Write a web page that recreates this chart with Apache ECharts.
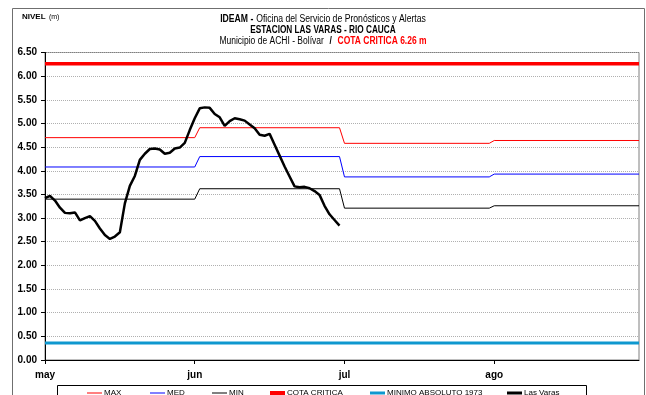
<!DOCTYPE html>
<html>
<head>
<meta charset="utf-8">
<script src="https://cdn.jsdelivr.net/npm/echarts@6/dist/echarts.min.js"></script>
<style>
  html, body { margin: 0; padding: 0; background: #fff; }
  #chart { width: 646px; height: 395px; }
</style>
</head>
<body>
<div id="chart"></div>
<script>
// Month labels on the time axis (one label every 30 days)
const monthLabels = ['may', 'jun', 'jul', 'ago'];
const monthTickDays = [0, 30, 60, 90];

// Historical reference levels per month (m)
const maxLevels = [4.70, 4.91, 4.58, 4.64];
const medLevels = [4.08, 4.30, 3.87, 3.93];
const minLevels = [3.40, 3.62, 3.21, 3.26];
// Day span of each monthly level segment
const segStartDay = [0, 31, 60, 90];
const segEndDay = [30, 59, 89, 119];

const cotaCritica = 6.26;
const minimoAbsoluto1973 = 0.36;
const lastDay = 119;

// Daily water level at Las Varas (m), from May 1
const lasVaras = [
  3.42, 3.47, 3.37, 3.22, 3.11, 3.10, 3.12, 2.95, 3.00, 3.04,
  2.94, 2.78, 2.64, 2.56, 2.61, 2.70, 3.31, 3.68, 3.89, 4.23,
  4.36, 4.46, 4.47, 4.45, 4.36, 4.38, 4.47, 4.49, 4.59, 4.86,
  5.11, 5.32, 5.34, 5.33, 5.20, 5.13, 4.95, 5.05, 5.11, 5.09,
  5.06, 4.98, 4.90, 4.76, 4.74, 4.78, 4.55, 4.32, 4.09, 3.88,
  3.67, 3.65, 3.66, 3.63, 3.57, 3.49, 3.26, 3.08, 2.96, 2.84
];

const FONT = "'Liberation Sans', Arial, sans-serif";

function stepData(levels) {
  const out = [];
  levels.forEach((v, m) => {
    out.push([segStartDay[m], v]);
    out.push([segEndDay[m], v]);
  });
  return out;
}
function flatData(v) {
  return [[0, v], [lastDay, v]];
}

const lineSeries = (name, data, color, width, z) => ({
  name, type: 'line', data, showSymbol: false, symbol: 'none',
  lineStyle: { color, width }, itemStyle: { color }, z,
  animation: false
});

const legendItems = [
  { name: 'MAX', left: 87, color: '#ff0000', h: 1 },
  { name: 'MED', left: 150, color: '#0000ff', h: 1 },
  { name: 'MIN', left: 212, color: '#000000', h: 1 },
  { name: 'COTA CRITICA', left: 270, color: '#ff0000', h: 4 },
  { name: 'MINIMO ABSOLUTO 1973', left: 370, color: '#0e98cf', h: 3 },
  { name: 'Las Varas', left: 507, color: '#000000', h: 3 }
];

// Header lines, condensed horizontally
const headerText = (y, sx, style) => ({
  type: 'text', z: 5, silent: true, x: 323, y, scaleX: sx,
  style: Object.assign({ textAlign: 'center', textVerticalAlign: 'middle' }, style)
});

const chart = echarts.init(document.getElementById('chart'), null, { renderer: 'canvas' });

chart.setOption({
  animation: false,
  backgroundColor: '#ffffff',
  textStyle: { fontFamily: FONT },
  grid: {
    left: 45, right: 7, top: 52.5, bottom: 35,
    show: true, borderColor: '#7f7f7f', borderWidth: 1, backgroundColor: '#ffffff'
  },
  xAxis: {
    type: 'value', min: 0, max: lastDay,
    axisLine: { show: true, lineStyle: { color: '#000', width: 1 } },
    axisTick: { show: true, inside: false, length: 4, customValues: monthTickDays, lineStyle: { color: '#000' } },
    axisLabel: {
      customValues: monthTickDays,
      formatter: v => monthLabels[monthTickDays.indexOf(v)] || '',
      fontFamily: FONT, fontWeight: 'bold', fontSize: 10, color: '#000', margin: 10
    },
    splitLine: { show: false }
  },
  yAxis: {
    type: 'value', min: 0, max: 6.5, interval: 0.5,
    axisLine: { show: true, lineStyle: { color: '#000', width: 1 } },
    axisTick: { show: true, inside: false, length: 4, lineStyle: { color: '#000' } },
    axisLabel: {
      formatter: v => v.toFixed(2),
      fontFamily: FONT, fontWeight: 'bold', fontSize: 10, color: '#000', margin: 8
    },
    splitLine: { show: true, lineStyle: { color: '#b0b0b0', type: 'dotted', width: 1 } }
  },
  legend: legendItems.map(it => ({
    data: [it.name], left: it.left, top: 389, padding: 0,
    icon: 'rect', itemWidth: 15, itemHeight: it.h, itemGap: 0,
    selectedMode: false,
    textStyle: { fontFamily: FONT, fontSize: 8, color: '#000', padding: [0, 0, 0, -3] }
  })),
  graphic: [
    { type: 'rect', z: -10, silent: true, shape: { x: 12.5, y: 8.5, width: 632, height: 400 },
      style: { fill: '#fff', stroke: '#6f6f6f', lineWidth: 1 } },
    { type: 'rect', z: 1, silent: true, shape: { x: 57.5, y: 385.5, width: 529, height: 30 },
      style: { fill: '#fff', stroke: '#000', lineWidth: 1 } },
    { type: 'text', z: 5, silent: true, x: 22, y: 17,
      style: { text: '{b|NIVEL} {n|(m)}', textVerticalAlign: 'middle',
        rich: { b: { fontFamily: FONT, fontWeight: 'bold', fontSize: 8, fill: '#000' },
                n: { fontFamily: FONT, fontSize: 7, fill: '#000' } } } },
    headerText(19, 0.865, {
      text: '{b|IDEAM -} {n|Oficina del Servicio de Pronósticos y Alertas}',
      rich: { b: { fontFamily: FONT, fontWeight: 'bold', fontSize: 10, fill: '#000' },
              n: { fontFamily: FONT, fontSize: 10, fill: '#000' } } }),
    headerText(30, 0.825, {
      text: 'ESTACION LAS VARAS - RIO CAUCA', font: "bold 10px " + FONT, fill: '#000' }),
    headerText(41, 0.85, {
      text: '{n|Municipio de ACHI - Bolívar}  {b|/}  {r|COTA CRITICA 6.26 m}',
      rich: { n: { fontFamily: FONT, fontSize: 10, fill: '#000' },
              b: { fontFamily: FONT, fontWeight: 'bold', fontSize: 10, fill: '#000' },
              r: { fontFamily: FONT, fontWeight: 'bold', fontSize: 10, fill: '#ff0000' } } })
  ],
  series: [
    lineSeries('MAX', stepData(maxLevels), '#ff0000', 1, 3),
    lineSeries('MED', stepData(medLevels), '#0000ff', 1, 3),
    lineSeries('MIN', stepData(minLevels), '#000000', 1, 3),
    lineSeries('COTA CRITICA', flatData(cotaCritica), '#ff0000', 3.5, 3),
    lineSeries('MINIMO ABSOLUTO 1973', flatData(minimoAbsoluto1973), '#0e98cf', 3, 3),
    lineSeries('Las Varas', lasVaras.map((v, i) => [i, v]), '#000000', 2.5, 4)
  ]
});
</script>
</body>
</html>
